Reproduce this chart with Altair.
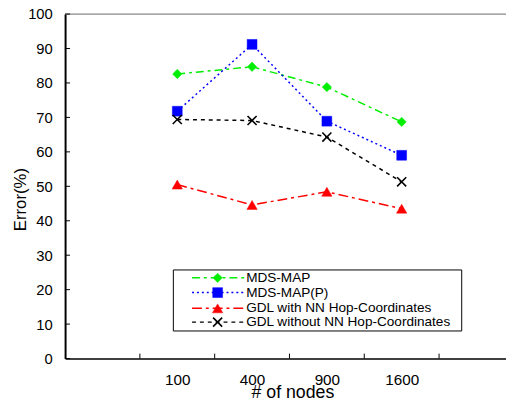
import altair as alt
import pandas as pd

nodes = ["100", "400", "900", "1600"]
series_names = ["MDS-MAP", "MDS-MAP(P)", "GDL with NN Hop-Coordinates", "GDL without NN Hop-Coordinates"]
mds_map = [82.6, 84.7, 78.8, 68.7]
mds_map_p = [71.8, 91.2, 68.9, 59.0]
gdl_with = [50.5, 44.6, 48.4, 43.5]
gdl_without = [69.4, 69.1, 64.3, 51.3]
y_ticks = [0, 10, 20, 30, 40, 50, 60, 70, 80, 90, 100]
x_tick_marks = [1, 2, 3, 4, 5]

FONT = "Liberation Sans"
W, H = 448, 350
XMAX = 5.895

values = [mds_map, mds_map_p, gdl_with, gdl_without]
colors = ["#00ee00", "#0000ff", "#ff0000", "#000000"]
dashes = [[8, 4, 3, 4], [2, 3], [10, 4, 3, 4], [4, 4]]
shapes = ["diamond", "square", "triangle-up", "M-1,-1L1,1M-1,1L1,-1"]
sizes = [90, 100, 110, 85]
filled = [True, True, True, False]

xpos = [i + 1.5 for i in range(len(nodes))]
label_expr = " : ".join(
    [f"datum.value == {p} ? '{n}'" for p, n in zip(xpos, nodes)]
) + " : ''"

xscale = alt.Scale(domain=[0, XMAX], nice=False, zero=False)
yscale = alt.Scale(domain=[0, 100], nice=False)

x_axis = alt.Axis(
    values=xpos, labelExpr=label_expr, ticks=False, grid=False, labelOverlap=False,
    domainColor="black", domainWidth=1.5, labelFont=FONT, labelFontSize=15.5,
    labelColor="black", labelPadding=14, title="# of nodes", titleFont=FONT,
    titleFontSize=18, titleFontWeight="normal", titleColor="black",
    titleX=231, titleY=35, titleBaseline="middle", titleAlign="center",
)
y_axis = alt.Axis(
    values=y_ticks, ticks=False, grid=False, labelOverlap=False, domainColor="black",
    domainWidth=2, labelFont=FONT, labelFontSize=15, labelColor="black",
    labelPadding=13, title="Error(%)", titleFont=FONT, titleFontSize=17,
    titleFontWeight="normal", titleColor="black", titleX=-45, titleY=188,
    titleAlign="center", titleBaseline="middle", titleAngle=-90,
)

def X(field):
    return alt.X(field, scale=xscale, axis=x_axis)

def Y(field):
    return alt.Y(field, scale=yscale, axis=y_axis)

layers = []

base_df = pd.DataFrame({"x": [0, XMAX], "y": [0, 100]})
layers.append(
    alt.Chart(base_df).mark_point(opacity=0).encode(x=X("x:Q"), y=Y("y:Q"))
)

layers.append(
    alt.Chart(pd.DataFrame({"a": [0]})).mark_rule(color="#888888", strokeWidth=1.2).encode(
        x=alt.value(0), x2=alt.value(W), y=alt.value(0)
    )
)

layers.append(
    alt.Chart(pd.DataFrame({"y": y_ticks})).mark_rule(color="black", strokeWidth=1).encode(
        y=Y("y:Q"), x=alt.value(0), x2=alt.value(5)
    )
)
layers.append(
    alt.Chart(pd.DataFrame({"x": x_tick_marks})).mark_rule(color="black", strokeWidth=1).encode(
        x=X("x:Q"), y=alt.value(H - 5), y2=alt.value(H)
    )
)

for name, vals, c, d, s, sz, f in zip(series_names, values, colors, dashes, shapes, sizes, filled):
    df = pd.DataFrame({"x": xpos, "y": vals})
    layers.append(
        alt.Chart(df).mark_line(color=c, strokeDash=d, strokeWidth=1.5).encode(
            x=X("x:Q"), y=Y("y:Q")
        )
    )
    pt = dict(shape=s, size=sz, filled=f, opacity=1)
    if f:
        pt.update(fill=c, stroke=c, strokeWidth=0.5)
    else:
        pt.update(stroke=c, strokeWidth=1.6)
    layers.append(
        alt.Chart(df).mark_point(**pt).encode(x=X("x:Q"), y=Y("y:Q"))
    )

layers.append(
    alt.Chart(pd.DataFrame({"a": [0]})).mark_rect(fill="white", stroke="black", strokeWidth=1).encode(
        x=alt.value(110), x2=alt.value(403), y=alt.value(260), y2=alt.value(322)
    )
)
row_y = [268, 283, 299, 313]
for name, c, d, s, sz, f, ry in zip(series_names, colors, dashes, shapes, sizes, filled, row_y):
    one = pd.DataFrame({"label": [name]})
    layers.append(
        alt.Chart(one).mark_rule(color=c, strokeDash=d, strokeWidth=1.5).encode(
            x=alt.value(129), x2=alt.value(182), y=alt.value(ry)
        )
    )
    pt = dict(shape=s, size=sz, filled=f, opacity=1)
    if f:
        pt.update(fill=c, stroke=c, strokeWidth=0.5)
    else:
        pt.update(stroke=c, strokeWidth=1.6)
    layers.append(
        alt.Chart(one).mark_point(**pt).encode(x=alt.value(155), y=alt.value(ry))
    )
    layers.append(
        alt.Chart(one).mark_text(align="left", baseline="middle", font=FONT, fontSize=13.8, color="black").encode(
            x=alt.value(184), y=alt.value(ry), text="label:N"
        )
    )

chart = alt.layer(*layers).properties(
    width=W, height=H,
    autosize=alt.AutoSizeParams(type="none"),
    padding={"left": 58, "top": 3, "right": 0, "bottom": 42},
).configure_view(stroke=None)

chart.save("out.html", embed_options={"renderer": "svg", "actions": False})
